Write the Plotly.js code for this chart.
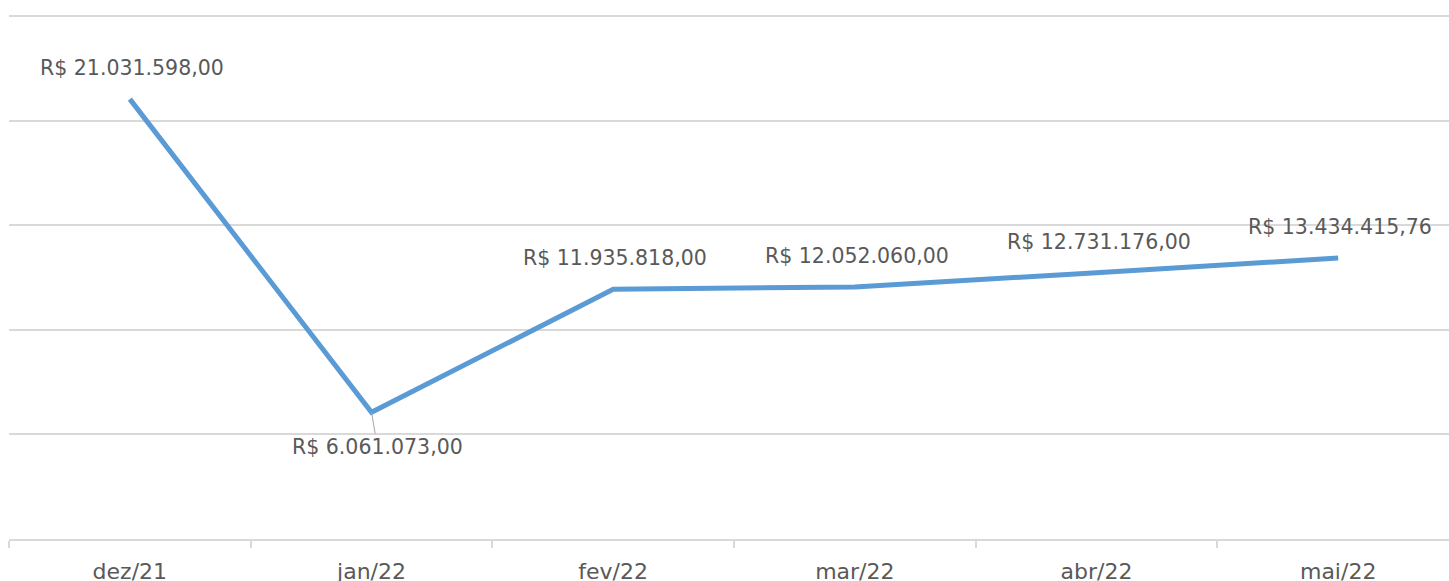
<!DOCTYPE html>
<html>
<head>
<meta charset="utf-8">
<script src="https://cdn.plot.ly/plotly-3.0.1.min.js"></script>
<style>
html,body{margin:0;padding:0;overflow:hidden;background:#fff;width:1449px;height:581px;}
#chart{width:1460px;height:581px;}
</style>
</head>
<body>
<div id="chart"></div>
<script>
var months = ["dez/21", "jan/22", "fev/22", "mar/22", "abr/22", "mai/22"];
var values = [21031598.00, 6061073.00, 11935818.00, 12052060.00, 12731176.00, 13434415.76];
var labelBelow = [false, true, false, false, false, false];

function fmtBRL(v) {
  var fixed = v.toFixed(2);
  var parts = fixed.split(".");
  var intPart = parts[0].replace(/\B(?=(\d{3})+(?!\d))/g, ".");
  return "R$ " + intPart + "," + parts[1];
}

var FONT = "DejaVu Sans, sans-serif";
var TXT = "#595959";
var GRID = "#D9D9D9";

var trace = {
  type: "scatter",
  mode: "lines",
  x: months,
  y: values,
  line: {color: "#5B9BD5", width: 5},
  hoverinfo: "skip"
};

var annotations = months.map(function (m, i) {
  var below = labelBelow[i];
  var a = {
    x: m, y: values[i], xref: "x", yref: "y",
    text: fmtBRL(values[i]),
    font: {family: FONT, size: 20.5, color: TXT},
    showarrow: false,
    yshift: 31,
    xshift: 2
  };
  if (below) {
    a.showarrow = true;
    a.arrowhead = 0;
    a.arrowwidth = 1;
    a.arrowcolor = "#A6A6A6";
    a.ax = 6;
    a.ay = 35;
    a.yshift = 0;
    a.xshift = 0;
  }
  return a;
});

var layout = {
  width: 1460,
  height: 581,
  margin: {l: 9, r: 1, t: 14, b: 42},
  paper_bgcolor: "#ffffff",
  plot_bgcolor: "#ffffff",
  showlegend: false,
  font: {family: FONT, color: TXT, size: 20},
  xaxis: {
    type: "category",
    range: [-0.5, 5.5],
    showgrid: false,
    showline: true,
    linecolor: GRID,
    linewidth: 2,
    ticks: "outside",
    tickson: "boundaries",
    ticklen: 7,
    tickcolor: GRID,
    tickwidth: 2,
    ticklabelstandoff: 12,
    tickfont: {family: FONT, size: 22, color: TXT},
    zeroline: false,
    fixedrange: true
  },
  yaxis: {
    range: [0, 25100000],
    dtick: 5000000,
    tick0: 0,
    showticklabels: false,
    showgrid: true,
    gridcolor: GRID,
    gridwidth: 2,
    zeroline: false,
    showline: false,
    ticks: "",
    fixedrange: true
  },
  annotations: annotations
};

Plotly.newPlot("chart", [trace], layout, {displayModeBar: false, staticPlot: true});
</script>
</body>
</html>
